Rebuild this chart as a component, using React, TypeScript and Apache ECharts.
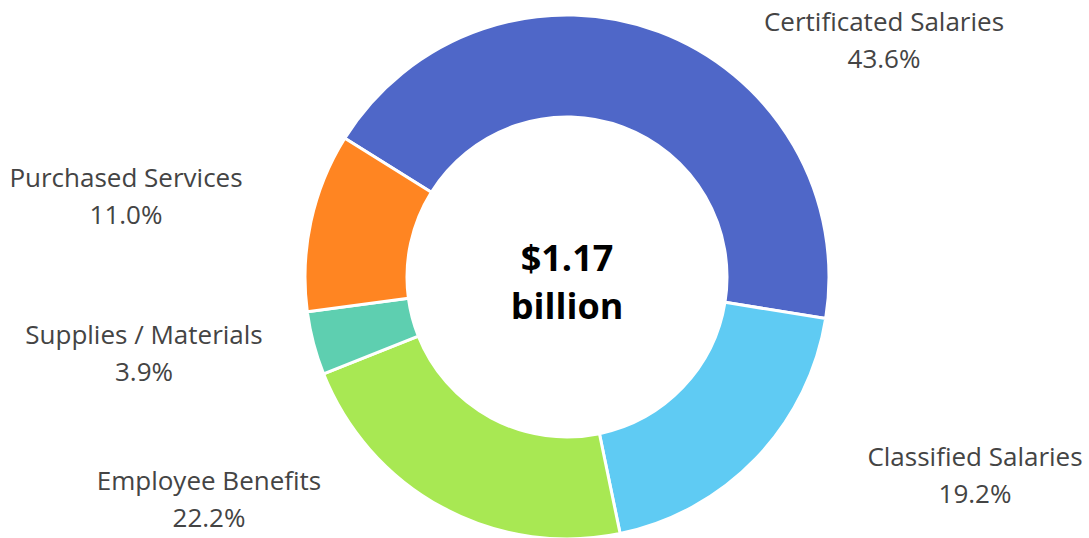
import React, { useEffect, useRef } from "react";
import * as echarts from "echarts";

const categories = [
  "Certificated Salaries",
  "Classified Salaries",
  "Employee Benefits",
  "Supplies / Materials",
  "Purchased Services",
];
const shares = [43.6, 19.2, 22.2, 3.9, 11.0];
const sliceColors = ["#4F67C8", "#5FCBF3", "#A8E853", "#5ECFB0", "#FF8522"];
const centerLines = ["$1.17", "billion"];

// label block centres (px) for each slice, in chart coordinates
const labelAnchors: [number, number][] = [
  [884, 39],
  [975, 474],
  [209, 498],
  [144, 352],
  [126, 195],
];

export default function App() {
  const ref = useRef<HTMLDivElement>(null);
  useEffect(() => {
    if (!ref.current) return;
    const chart = echarts.init(ref.current, undefined, { renderer: "svg" });
    const font = "'Open Sans', 'Noto Sans', sans-serif";
    chart.setOption({
      animation: false,
      backgroundColor: "#ffffff",
      series: [
        {
          type: "pie",
          center: [567, 277],
          radius: [160, 262],
          startAngle: 148,
          clockwise: true,
          avoidLabelOverlap: false,
          itemStyle: { borderColor: "#ffffff", borderWidth: 3 },
          label: {
            show: true,
            position: "outside",
            formatter: (p: any) => `${p.name}\n${Number(p.value).toFixed(1)}%`,
            color: "#444444",
            fontFamily: font,
            fontSize: 26,
            lineHeight: 37,
            align: "center",
          },
          labelLine: { show: false },
          labelLayout: (params: any) => {
            const a = labelAnchors[params.dataIndex];
            return { x: a[0], y: a[1], align: "center", verticalAlign: "middle" };
          },
          emphasis: { disabled: true },
          data: categories.map((name, i) => ({
            name,
            value: shares[i],
            itemStyle: { color: sliceColors[i] },
          })),
        },
      ],
      graphic: [
        {
          type: "text",
          x: 567,
          y: 281,
          style: {
            text: centerLines.join("\n"),
            fontFamily: font,
            fontSize: 36,
            fontWeight: "bold",
            lineHeight: 48,
            fill: "#000000",
            align: "center",
            verticalAlign: "middle",
          },
        },
      ],
    });
    return () => chart.dispose();
  }, []);
  return (
    <div
      ref={ref}
      style={{ position: "absolute", left: 0, top: 0, width: 1089, height: 538 }}
    />
  );
}
